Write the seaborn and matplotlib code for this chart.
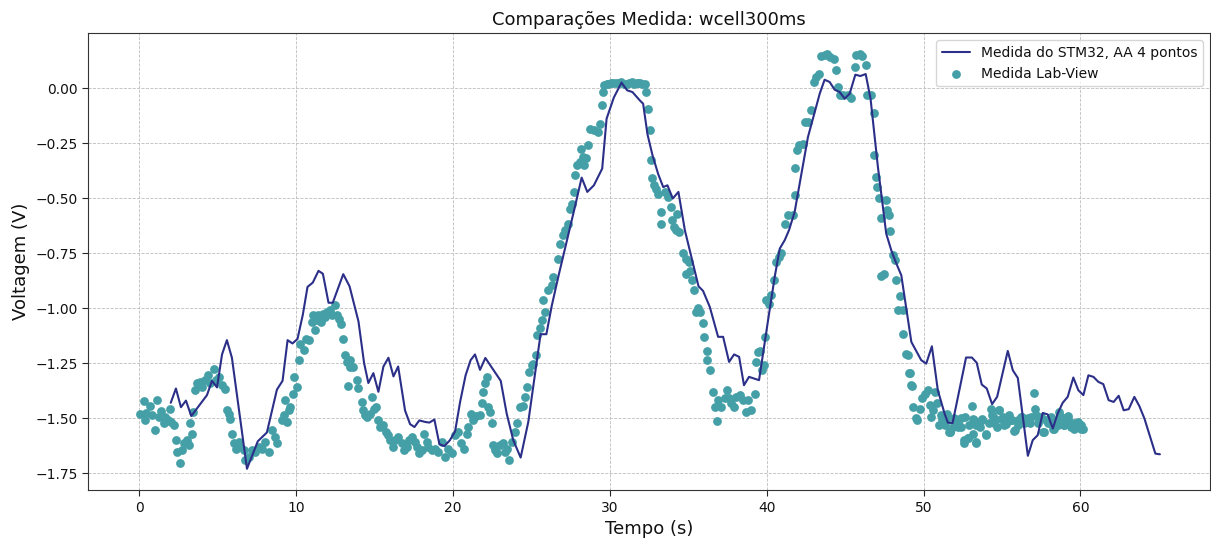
import numpy as np
import pandas as pd
import matplotlib
matplotlib.use("Agg")
import matplotlib.pyplot as plt
import seaborn as sns

# ---- STM32 (moving average, 4 points) ----
stm_t = [2.0, 2.33, 2.65, 2.97, 3.31, 4.31, 4.63, 4.95, 5.27, 5.58,
         5.9, 6.86, 7.55, 8.13, 8.77, 9.13, 9.45, 9.76, 10.08, 10.42,
         10.72, 11.06, 11.42, 11.7, 12.06, 12.33, 13.0, 13.4, 13.97, 14.33,
         14.6, 14.92, 15.24, 15.56, 15.88, 16.2, 16.5, 16.94, 17.26, 17.54,
         17.85, 18.22, 18.49, 18.81, 19.13, 19.45, 19.8, 20.13, 20.45, 20.8,
         21.12, 21.4, 21.72, 22.06, 23.04, 23.42, 23.84, 24.31, 24.8, 25.58,
         25.95, 26.29, 26.71, 27.24, 27.77, 28.2, 28.56, 28.98, 29.51, 29.79,
         30.25, 30.74, 31.1, 31.44, 31.91, 32.12, 32.4, 32.72, 33.08, 33.4,
         33.67, 34.01, 34.37, 34.78, 35.65, 35.94, 36.37, 36.9, 37.22, 37.6,
         37.92, 38.24, 38.55, 38.87, 39.51, 40.15, 40.51, 40.83, 41.15, 41.42,
         41.78, 42.1, 42.63, 43.38, 43.69, 44.01, 44.33, 44.65, 44.97, 45.29,
         45.65, 45.97, 46.31, 46.62, 47.09, 47.62, 47.94, 48.22, 48.58, 49.22,
         49.85, 50.17, 50.53, 50.91, 51.34, 51.55, 51.85, 52.71, 53.08, 53.39,
         53.71, 54.03, 54.37, 54.69, 55.37, 55.69, 56.01, 56.65, 56.96, 57.28,
         57.6, 57.92, 58.24, 58.55, 58.87, 59.19, 59.55, 59.87, 60.19, 60.51,
         60.83, 61.15, 61.46, 61.8, 62.12, 62.44, 62.76, 63.08, 63.44, 63.76,
         64.08, 64.78, 65.07]
stm_v = [-1.43, -1.365, -1.45, -1.42, -1.49, -1.395, -1.33, -1.36, -1.21, -1.145,
         -1.225, -1.73, -1.605, -1.565, -1.37, -1.33, -1.145, -1.16, -1.14, -1.03,
         -0.903, -0.883, -0.83, -0.843, -0.975, -0.975, -0.845, -0.90, -1.06, -1.25,
         -1.34, -1.295, -1.38, -1.265, -1.225, -1.31, -1.265, -1.465, -1.527, -1.54,
         -1.51, -1.517, -1.52, -1.506, -1.618, -1.627, -1.6, -1.56, -1.426, -1.305,
         -1.236, -1.21, -1.28, -1.226, -1.33, -1.479, -1.6, -1.679, -1.516, -1.118,
         -1.118, -0.99, -0.857, -0.698, -0.539, -0.406, -0.471, -0.441, -0.365, -0.138,
         -0.042, 0.026, -0.009, -0.017, -0.055, -0.07, -0.21, -0.305, -0.39, -0.449,
         -0.441, -0.501, -0.471, -0.645, -0.9, -0.921, -0.994, -1.13, -1.13, -1.244,
         -1.21, -1.221, -1.35, -1.312, -1.327, -1.024, -0.857, -0.729, -0.69, -0.645,
         -0.562, -0.433, -0.221, -0.024, 0.039, 0.029, -0.006, -0.017, -0.047, -0.024,
         0.062, 0.056, 0.065, -0.047, -0.358, -0.661, -0.736, -0.789, -0.85, -1.153,
         -1.236, -1.252, -1.173, -1.373, -1.479, -1.52, -1.522, -1.224, -1.224, -1.248,
         -1.347, -1.365, -1.436, -1.403, -1.194, -1.282, -1.317, -1.671, -1.6, -1.577,
         -1.476, -1.483, -1.547, -1.479, -1.43, -1.403, -1.315, -1.373, -1.395, -1.305,
         -1.312, -1.335, -1.345, -1.418, -1.426, -1.398, -1.464, -1.459, -1.403, -1.445,
         -1.501, -1.661, -1.664]

# ---- Lab-View measurements (read in segments) ----
lab_t_a = [0.06, 0.32, 0.38, 0.45, 0.70, 0.81, 1.02, 1.13, 1.23, 1.38,
           1.55, 1.66, 1.80, 1.93, 2.02, 2.19, 2.34, 2.40, 2.61, 2.72,
           2.87, 3.04, 3.14, 3.25, 3.35, 3.42, 3.57, 3.67, 3.89, 3.99,
           4.20, 4.35, 4.52, 4.73, 4.90, 5.05, 5.27, 5.48, 5.58, 5.69,
           5.75, 5.90, 6.01, 6.18, 6.33, 6.43, 6.65, 6.75, 6.96, 7.18,
           7.39, 7.60, 7.81, 8.03, 8.24, 8.45, 8.66, 8.77, 9.09, 9.19,
           9.30, 9.41, 9.51, 9.62, 9.79, 9.83, 10.04, 10.15, 10.25, 10.47,
           10.64, 10.79]
lab_v_a = [-1.48, -1.421, -1.509, -1.476, -1.445, -1.486, -1.555, -1.418, -1.494, -1.467,
           -1.524, -1.494, -1.509, -1.456, -1.517, -1.532, -1.600, -1.653, -1.703, -1.645,
           -1.615, -1.600, -1.623, -1.524, -1.570, -1.471, -1.373, -1.342, -1.335, -1.358,
           -1.327, -1.305, -1.342, -1.274, -1.327, -1.312, -1.350, -1.365, -1.461, -1.479,
           -1.502, -1.570, -1.615, -1.638, -1.608, -1.630, -1.645, -1.691, -1.676, -1.645,
           -1.653, -1.630, -1.638, -1.608, -1.653, -1.555, -1.585, -1.615, -1.509, -1.486,
           -1.418, -1.517, -1.464, -1.449, -1.388, -1.312, -1.358, -1.236, -1.161, -1.191,
           -1.138, -1.146]

lab_t_b = [11.0, 11.1, 11.21, 11.32, 11.42, 11.57, 11.7, 11.85, 11.95, 12.17,
           12.27, 12.48, 12.59, 12.76, 12.85, 12.97, 13.12, 13.23, 13.4, 13.44,
           13.61, 13.33, 13.86, 13.97, 14.18, 14.29, 14.4, 14.5, 14.71, 14.82,
           14.93, 15.1, 15.24, 15.35, 15.56, 15.73, 15.88, 15.99, 16.16, 16.31,
           16.52, 16.73, 16.88, 17.05, 17.16, 17.37, 17.58, 17.69, 17.86, 18.0,
           18.15, 18.32, 18.43, 18.64, 18.85, 19.07, 19.28, 19.49, 19.7, 19.92,
           20.13, 20.34, 20.49, 20.7, 20.87, 20.98, 21.12, 21.3, 21.46]
lab_v_b = [-1.062, -1.032, -1.1, -1.055, -1.032, -1.062, -1.024, -1.04, -1.017, -1.009,
           -1.032, -0.986, -1.032, -1.047, -1.073, -1.138, -1.214, -1.244, -1.236, -1.267,
           -1.267, -1.355, -1.324, -1.361, -1.426, -1.464, -1.486, -1.494, -1.479, -1.403,
           -1.456, -1.449, -1.509, -1.539, -1.532, -1.562, -1.577, -1.6, -1.63, -1.6,
           -1.585, -1.612, -1.645, -1.63, -1.6, -1.585, -1.608, -1.63, -1.66, -1.645,
           -1.57, -1.608, -1.63, -1.645, -1.638, -1.653, -1.608, -1.676, -1.638, -1.66,
           -1.577, -1.562, -1.615, -1.642, -1.57, -1.539, -1.479, -1.509, -1.491]

lab_t_c = [21.72, 21.83, 21.93, 22.04, 22.15, 22.25, 22.36, 22.46, 22.57, 22.68,
           22.83, 23.0, 23.17, 23.31, 23.46, 23.59, 23.74, 23.95, 24.1, 24.27,
           24.44, 24.59, 24.74, 24.86, 25.01, 25.12, 25.29, 25.37, 25.54, 25.65,
           25.71, 25.86, 26.07, 26.29, 26.39, 26.71]
lab_v_c = [-1.486, -1.433, -1.38, -1.342, -1.312, -1.449, -1.471, -1.524, -1.623, -1.645,
           -1.66, -1.623, -1.615, -1.653, -1.638, -1.691, -1.608, -1.562, -1.524, -1.449,
           -1.445, -1.403, -1.358, -1.29, -1.259, -1.252, -1.214, -1.123, -1.092, -1.055,
           -0.964, -1.017, -0.918, -0.895, -0.858, -0.777]

lab_t_d = [26.81, 26.98, 27.13, 27.34, 27.45, 27.6, 27.7, 27.77, 27.92, 28.09,
           28.26, 28.34, 28.19, 28.47, 28.62, 28.72, 28.98, 29.25, 29.36, 29.47,
           29.57, 29.64, 29.83, 30.1, 30.42, 30.74, 31.06, 31.38, 31.7,
           29.9, 30.2, 30.55, 30.9, 31.2, 31.55, 31.9, 32.05]
lab_v_d = [-0.706, -0.668, -0.646, -0.615, -0.547, -0.524, -0.471, -0.395, -0.35, -0.335,
           -0.312, -0.35, -0.274, -0.315, -0.259, -0.183, -0.191, -0.198, -0.161, -0.077,
           -0.017, 0.014, 0.021, 0.024, 0.024, 0.029, 0.021, 0.029, 0.024,
           0.02, 0.022, 0.025, 0.02, 0.026, 0.02, 0.025, 0.018]

lab_t_e = [31.8, 32.23, 32.33, 32.44, 32.54, 32.59, 32.71, 32.8, 32.93, 33.07,
           33.29, 33.29, 33.5, 33.71, 33.92, 33.99, 34.07, 34.24, 34.28, 34.41,
           34.67, 34.88, 35.05, 34.88, 35.13, 35.26, 35.37, 35.47, 35.62, 35.77,
           35.94, 35.98, 36.2, 36.2, 36.37, 36.58, 36.68, 36.83, 36.9, 37.11,
           37.32, 37.47, 37.6, 37.75, 37.9, 38.06, 38.28, 38.49, 38.66, 38.81,
           39.02, 39.23, 39.3, 39.45, 39.6, 39.72, 39.81, 39.87, 39.98, 40.14,
           40.29, 40.44, 40.61, 40.78, 40.93, 41.14, 41.36, 41.67, 41.78, 41.78,
           41.93, 42.06]
lab_v_e = [0.024, 0.021, -0.017, -0.092, -0.188, -0.324, -0.41, -0.441, -0.456, -0.479,
           -0.562, -0.618, -0.471, -0.494, -0.539, -0.6, -0.63, -0.646, -0.57, -0.653,
           -0.749, -0.774, -0.79, -0.842, -0.83, -0.873, -0.915, -1.017, -1.001, -1.017,
           -1.067, -1.133, -1.194, -1.236, -1.279, -1.38, -1.448, -1.512, -1.418, -1.448,
           -1.41, -1.373, -1.41, -1.433, -1.448, -1.403, -1.395, -1.418, -1.471, -1.418,
           -1.464, -1.388, -1.244, -1.198, -1.194, -1.282, -1.259, -1.13, -0.963, -0.979,
           -0.941, -0.873, -0.79, -0.767, -0.751, -0.615, -0.577, -0.577, -0.486, -0.36,
           -0.282, -0.259]

lab_t_f = [42.31, 42.42, 42.63, 42.84, 42.99, 43.16, 43.33, 43.48, 43.69, 43.84,
           44.05, 44.26, 44.39, 44.54, 44.65, 44.86, 45.18, 45.39, 45.6, 45.71,
           45.92, 46.09, 46.3, 46.39, 46.66, 46.81, 46.87, 46.98, 47.02, 47.15,
           47.3, 47.62, 47.66, 47.79, 47.83, 48.04, 48.21, 47.3, 47.45, 48.25,
           48.47, 48.36, 48.68, 48.72, 48.85, 49.0, 49.15, 49.27, 49.32, 49.49,
           49.57, 49.78, 49.91, 50.06, 50.27, 50.38, 50.48, 50.63, 50.76, 50.84,
           51.01, 51.18, 51.4, 51.65, 51.86, 52.08]
lab_v_f = [-0.252, -0.153, -0.153, -0.1, 0.029, 0.052, 0.067, 0.145, 0.15, 0.158,
           0.142, 0.135, 0.085, 0.006, -0.032, -0.032, -0.032, -0.042, 0.097, 0.15,
           0.155, 0.145, 0.105, -0.032, -0.032, -0.112, -0.305, -0.403, -0.449, -0.497,
           -0.588, -0.509, -0.551, -0.577, -0.648, -0.759, -0.782, -0.855, -0.843, -0.873,
           -0.945, -1.009, -1.009, -1.115, -1.206, -1.214, -1.294, -1.354, -1.448, -1.497,
           -1.509, -1.456, -1.41, -1.388, -1.373, -1.441, -1.494, -1.464, -1.38, -1.43,
           -1.532, -1.502, -1.509, -1.562, -1.539, -1.509]

lab_t_g = [51.13, 51.34, 51.66, 51.98, 52.19, 52.4, 52.55, 52.82, 53.1, 53.14,
           53.14, 53.36, 53.36, 53.61, 53.74, 53.99, 54.2, 54.31, 54.37, 54.52,
           54.8, 54.95, 55.16, 55.37, 55.59, 55.8, 56.01, 56.29, 56.54, 56.79,
           57.01, 57.13, 57.18, 57.39, 57.64, 57.81, 58.03, 58.24, 58.45, 58.62,
           58.77, 58.98, 59.19, 59.41, 59.62, 59.83, 60.04, 60.19]
lab_v_g = [-1.486, -1.532, -1.562, -1.502, -1.524, -1.539, -1.615, -1.592, -1.445, -1.502,
           -1.57, -1.532, -1.612, -1.539, -1.502, -1.577, -1.524, -1.456, -1.486, -1.524,
           -1.463, -1.502, -1.532, -1.494, -1.509, -1.554, -1.509, -1.494, -1.516, -1.524,
           -1.385, -1.456, -1.486, -1.509, -1.562, -1.509, -1.524, -1.547, -1.516, -1.471,
           -1.494, -1.532, -1.502, -1.532, -1.547, -1.524, -1.532, -1.547]

lab_t_h = [51.48, 51.69, 51.97, 52.18, 52.4, 52.67, 52.88, 53.24, 53.52, 53.73,
           53.99, 54.46, 54.67, 54.84, 55.05, 55.26, 55.43, 55.64, 55.79, 56.0,
           56.22, 56.43, 56.64, 56.85, 57.28, 57.49, 57.7, 57.92, 58.13, 58.34,
           58.55, 58.77, 58.98, 59.19, 59.4, 59.61, 59.83, 60.04, 52.61, 52.82,
           53.35, 49.1, 49.21]
lab_v_h = [-1.482, -1.562, -1.501, -1.539, -1.497, -1.494, -1.532, -1.506, -1.532, -1.506,
           -1.573, -1.501, -1.539, -1.461, -1.494, -1.527, -1.486, -1.506, -1.557, -1.532,
           -1.494, -1.521, -1.501, -1.494, -1.524, -1.494, -1.562, -1.524, -1.494, -1.547,
           -1.532, -1.494, -1.532, -1.491, -1.539, -1.524, -1.517, -1.547, -1.6, -1.588,
           -1.608, -1.294, -1.35]

lab_t = lab_t_a + lab_t_b + lab_t_c + lab_t_d + lab_t_e + lab_t_f + lab_t_g + lab_t_h
lab_v = lab_v_a + lab_v_b + lab_v_c + lab_v_d + lab_v_e + lab_v_f + lab_v_g + lab_v_h

title = "Comparações Medida: wcell300ms"
line_label = "Medida do STM32, AA 4 pontos"
scatter_label = "Medida Lab-View"

sns.set_theme(style="ticks")
plt.rcParams['font.family'] = ['DejaVu Sans']

fig = plt.figure(figsize=(12.11, 5.38), dpi=100)
ax = fig.add_axes([0.073, 0.089, 0.926, 0.849])

sns.lineplot(x=stm_t, y=stm_v, ax=ax, color="#2b2f88", linewidth=1.5,
             sort=False, estimator=None, label=line_label)
sns.scatterplot(x=lab_t, y=lab_v, ax=ax, color="#44a0a6", s=40,
                linewidth=0, label=scatter_label)

ax.set_xlim(-3.25, 68.25)
ax.set_ylim(-1.827, 0.25)
ax.set_xticks([0, 10, 20, 30, 40, 50, 60])
ax.set_yticks([0.0, -0.25, -0.5, -0.75, -1.0, -1.25, -1.5, -1.75])
ax.grid(True, linestyle="--", color="#bdbdbd", linewidth=0.6)
for s in ax.spines.values():
    s.set_visible(True)
    s.set_color("#333333")
    s.set_linewidth(0.8)
ax.tick_params(axis="both", labelsize=10, length=4, width=0.8,
               labelcolor="#111111")
ax.set_title(title, fontsize=13, color="#111111")
ax.set_xlabel("Tempo (s)", fontsize=13, color="#111111")
ax.set_ylabel("Voltagem (V)", fontsize=13, color="#111111")
leg = ax.legend(loc="upper right", fontsize=10, frameon=True)
for t in leg.get_texts():
    t.set_color("#111111")

fig.savefig("out.png", dpi=100)
